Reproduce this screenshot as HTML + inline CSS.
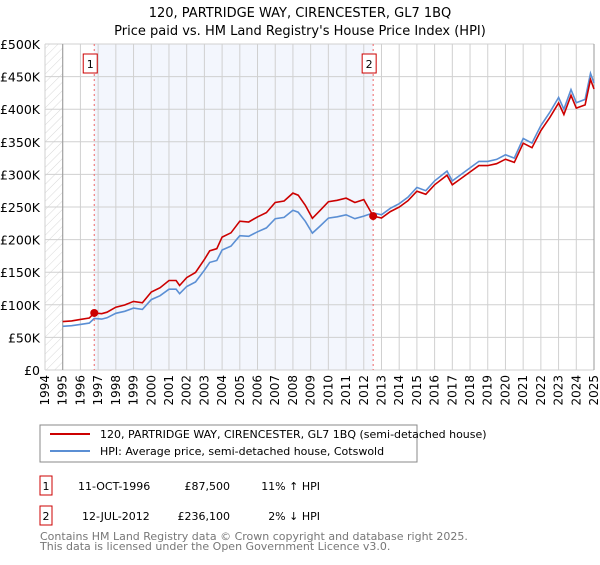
<!DOCTYPE html>
<html><head><meta charset="utf-8"><style>
body{margin:0;background:#fff;font-family:"Liberation Sans","DejaVu Sans",sans-serif;}
svg text{font-family:"DejaVu Sans","Liberation Sans",sans-serif;}
</style></head><body>
<svg id="c" width="600" height="560" xmlns="http://www.w3.org/2000/svg">
<defs><pattern id="hatch" width="6" height="6" patternUnits="userSpaceOnUse" patternTransform="rotate(45)"><line x1="0" y1="0" x2="0" y2="6" stroke="#d8d8d8" stroke-width="1"/></pattern></defs>
<text x="300" y="17" text-anchor="middle" font-size="13">120, PARTRIDGE WAY, CIRENCESTER, GL7 1BQ</text>
<text x="300" y="35" text-anchor="middle" font-size="13">Price paid vs. HM Land Registry's House Price Index (HPI)</text>
<g id="plot"></g>
<rect x="40" y="425" width="377" height="37" fill="#fff" stroke="#888"/>
<line x1="50" y1="434" x2="90" y2="434" stroke="#cc0000" stroke-width="2"/>
<text x="100" y="438" font-size="11">120, PARTRIDGE WAY, CIRENCESTER, GL7 1BQ (semi-detached house)</text>
<line x1="50" y1="451" x2="90" y2="451" stroke="#5b8fd4" stroke-width="2"/>
<text x="100" y="455" font-size="11">HPI: Average price, semi-detached house, Cotswold</text>
<g font-size="11">
<rect x="40" y="476" width="12" height="19" fill="#fff" stroke="#cc0000"/><text x="46" y="490" text-anchor="middle">1</text>
<text x="78" y="490">11-OCT-1996</text><text x="230" y="490" text-anchor="end">£87,500</text><text x="320" y="490" text-anchor="end">11% ↑ HPI</text></g>
<g font-size="11">
<rect x="40" y="506" width="12" height="19" fill="#fff" stroke="#cc0000"/><text x="46" y="520" text-anchor="middle">2</text>
<text x="82" y="520">12-JUL-2012</text><text x="230" y="520" text-anchor="end">£236,100</text><text x="320" y="520" text-anchor="end">2% ↓ HPI</text></g>
<text x="40" y="540" font-size="11" fill="#777">Contains HM Land Registry data © Crown copyright and database right 2025.</text>
<text x="40" y="550" font-size="11" fill="#777">This data is licensed under the Open Government Licence v3.0.</text>
</svg>
<script>
const hpiYears=[1995,1995.5,1996,1996.5,1996.78,1997.2,1997.5,1998,1998.5,1999,1999.5,2000,2000.5,2001,2001.4,2001.6,2002,2002.5,2003,2003.3,2003.7,2004,2004.5,2005,2005.5,2006,2006.5,2007,2007.5,2008,2008.3,2008.7,2009.1,2009.5,2010,2010.5,2011,2011.5,2012,2012.53,2013,2013.5,2014,2014.5,2015,2015.5,2016,2016.7,2017,2017.5,2018,2018.5,2019,2019.5,2020,2020.5,2021,2021.5,2022,2022.5,2023,2023.3,2023.7,2024,2024.5,2024.8,2025];
const hpiValues=[67,68,70,72,79,78,80,87,90,95,93,108,114,124,124,117,128,135,153,165,168,184,190,206,205,212,218,232,234,245,242,228,210,220,233,235,238,232,236,241,238,248,255,265,280,275,290,305,290,300,310,320,320,323,330,325,355,348,375,395,418,400,430,410,415,455,440];
const saleYears=[1996.78,2012.53];
const salePrices=[87.5,236.1];
const yTicks=[0,50,100,150,200,250,300,350,400,450,500];
const yTickLabels=["£0","£50K","£100K","£150K","£200K","£250K","£300K","£350K","£400K","£450K","£500K"];
const xTicks=[1994,1995,1996,1997,1998,1999,2000,2001,2002,2003,2004,2005,2006,2007,2008,2009,2010,2011,2012,2013,2014,2015,2016,2017,2018,2019,2020,2021,2022,2023,2024,2025];

const X0=45,X1=594,Y0=370,Y1=44;
const xs=y=>X0+(y-1994)/31*(X1-X0);
const ys=v=>Y0-v/500*(Y0-Y1);
const NS="http://www.w3.org/2000/svg";
const g=document.getElementById('plot');
function mk(t,a){const e=document.createElementNS(NS,t);for(const k in a)e.setAttribute(k,a[k]);g.appendChild(e);return e;}
let e;
e=mk('rect',{x:xs(1994),y:Y1,width:xs(1995)-xs(1994),height:Y0-Y1,fill:'url(#hatch)'});


e=mk('rect',{x:xs(saleYears[0]),y:Y1,width:xs(saleYears[1])-xs(saleYears[0]),height:Y0-Y1,fill:'#f3f6fd'});


yTicks.forEach((v,i)=>{
 e=mk('line',{x1:X0,x2:X1,y1:ys(v),y2:ys(v),stroke:'#d0d0d0'});
 
 
 e=mk('text',{x:40,y:ys(v)+5,'text-anchor':'end','font-size':12.5});e.textContent=yTickLabels[i];
 
 
});
xTicks.forEach(y=>{
 e=mk('line',{x1:xs(y),x2:xs(y),y1:Y1,y2:Y0,stroke:'#d0d0d0'});
 
 
 e=mk('text',{x:0,y:0,'text-anchor':'end','font-size':12,transform:`translate(${xs(y)+4},375) rotate(-90)`});e.textContent=y;
 
 
});
e=mk('line',{x1:xs(1995),x2:xs(1995),y1:Y1,y2:Y0,stroke:'#999'});


e=mk('line',{x1:X1,x2:X1,y1:Y1,y2:Y0,stroke:'#999'});


const r1=salePrices[0]/hpiValues[hpiYears.indexOf(saleYears[0])];
const r2=salePrices[1]/hpiValues[hpiYears.indexOf(saleYears[1])];
const hp=hpiYears.map((y,i)=>`${xs(y).toFixed(1)},${ys(hpiValues[i]).toFixed(1)}`).join(' ');
const pp=hpiYears.map((y,i)=>`${xs(y).toFixed(1)},${ys(hpiValues[i]*(y<saleYears[1]?r1:r2)).toFixed(1)}`).join(' ');
e=mk('polyline',{points:hp,fill:'none',stroke:'#5b8fd4','stroke-width':1.6});


e=mk('polyline',{points:pp,fill:'none',stroke:'#cc0000','stroke-width':1.6});


saleYears.forEach((y,i)=>{
 e=mk('line',{x1:xs(y),x2:xs(y),y1:Y1,y2:Y0,stroke:'#e66','stroke-dasharray':'2,3'});
 
 
 e=mk('circle',{cx:xs(y),cy:ys(salePrices[i]),r:4,fill:'#cc0000'});
 
 
 e=mk('rect',{x:xs(y)-11,y:54,width:14,height:19,fill:'#fff',stroke:'#cc0000'});
 
 
 e=mk('text',{x:xs(y)-4,y:68,'text-anchor':'middle','font-size':11});e.textContent=String(i+1);
 
 
});
</script>
</body></html>
